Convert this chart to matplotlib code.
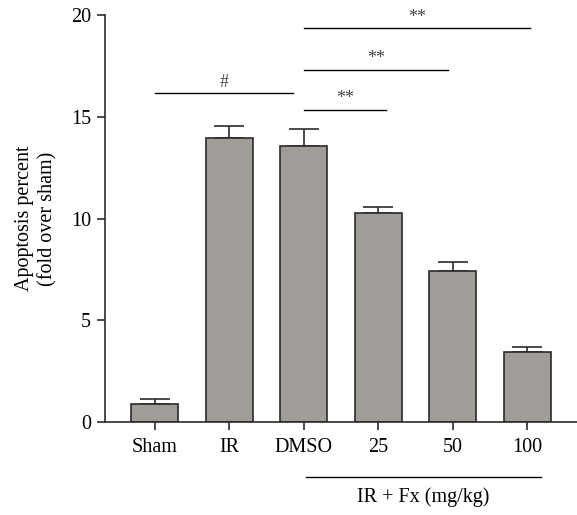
import matplotlib.pyplot as plt
import numpy as np
import matplotlib

matplotlib.rcParams.update({'font.size': 14.5, 'font.family': 'Liberation Serif'})

groups = ['Sham', 'IR', 'DMSO', '25', '50', '100']
means = [0.92, 13.94, 13.58, 10.29, 7.44, 3.44]
errors = [0.24, 0.61, 0.82, 0.28, 0.41, 0.25]

# significance bars: (start, end, height, label)
sig_start = [0, 2, 2, 2]
sig_end = [1.85, 3.1, 3.94, 5.04]
sig_y = [16.15, 15.35, 17.31, 19.35]
sig_text = ['#', '**', '**', '**']

fig, ax = plt.subplots(figsize=(5.77, 5.15), dpi=100)
plt.subplots_adjust(left=0.182, right=1.0, top=0.971, bottom=0.18)

x = np.arange(len(groups))
ax.bar(x, means, width=0.63, color='#a09c98', edgecolor='#2b2b2b', linewidth=1.2, zorder=2)
ax.errorbar(x, means, yerr=[np.zeros(len(errors)), errors], fmt='none', ecolor='#2b2b2b',
            elinewidth=1.2, capsize=11, capthick=1.2, zorder=1)

ax.set_xlim(-0.67, 5.67)
ax.set_ylim(0, 20)
ax.set_yticks([0, 5, 10, 15, 20])
ax.set_xticks(x)
ax.set_xticklabels(groups)
ax.spines['top'].set_visible(False)
ax.spines['right'].set_visible(False)
for s in ['left', 'bottom']:
    ax.spines[s].set_linewidth(1.2)
    ax.spines[s].set_color('#2b2b2b')
ax.tick_params(axis='both', length=6, width=1.2, color='#2b2b2b')
ax.tick_params(axis='x', pad=5)
ax.tick_params(axis='y', pad=4)
ax.set_ylabel('Apoptosis percent\n(fold over sham)', linespacing=1.25, labelpad=10)

for a, b, h, t in zip(sig_start, sig_end, sig_y, sig_text):
    ax.plot([a, b], [h, h], color='black', linewidth=1.0, clip_on=False)
    ax.text((a + b) / 2, h + 0.12, t, ha='center', va='bottom', fontsize=13, color='#444444')

# group line under x axis
ax.plot([2.03, 5.19], [-2.69, -2.69], color='black', linewidth=1.0, clip_on=False)
ax.text(3.6, -3.68, 'IR + Fx (mg/kg)', ha='center', va='center', clip_on=False)

plt.savefig('out.png')
